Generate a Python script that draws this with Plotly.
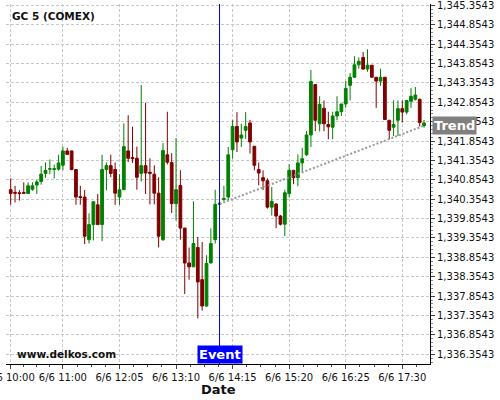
import plotly.graph_objects as go
import pandas as pd

# ---- data ----
times = pd.date_range("2019-06-06 10:00", periods=96, freq="5min")

opens = [1340.60, 1340.53, 1340.52, 1340.53, 1340.50, 1340.61, 1340.72, 1340.81, 1341.02, 1341.13,
         1341.12, 1341.13, 1341.23, 1341.60, 1341.60, 1341.12, 1340.42, 1340.41, 1339.31, 1339.70,
         1340.21, 1339.70, 1341.12, 1341.22, 1341.12, 1340.41, 1340.60, 1341.60, 1341.43, 1341.41,
         1341.02, 1341.22, 1341.05, 1341.00, 1340.51, 1339.31, 1341.50, 1341.30, 1340.24, 1340.71,
         1339.61, 1338.71, 1338.61, 1339.11, 1338.28, 1337.60, 1338.71, 1339.31, 1340.22, 1340.35,
         1340.41, 1341.63, 1342.23, 1341.93, 1342.13, 1342.32, 1341.72, 1341.12, 1340.91, 1340.83,
         1340.15, 1340.23, 1339.92, 1339.71, 1340.50, 1341.10, 1340.91, 1341.29, 1341.50, 1342.01,
         1343.31, 1342.30, 1342.70, 1342.28, 1342.21, 1342.50, 1342.61, 1342.81, 1343.29, 1343.50,
         1343.82, 1344.01, 1343.71, 1343.81, 1343.50, 1343.40, 1343.50, 1342.39, 1342.21, 1342.39,
         1342.69, 1342.60, 1342.88, 1342.93, 1342.93, 1342.25]
highs = [1340.89, 1340.70, 1340.59, 1340.79, 1340.79, 1340.79, 1340.85, 1341.21, 1341.30, 1341.38,
         1341.25, 1341.50, 1341.71, 1341.68, 1341.60, 1341.12, 1340.70, 1340.59, 1339.99, 1340.29,
         1340.49, 1341.50, 1341.30, 1341.50, 1341.30, 1341.00, 1342.31, 1342.52, 1342.22, 1341.71,
         1343.30, 1342.84, 1341.41, 1341.23, 1340.92, 1341.80, 1342.61, 1341.54, 1341.93, 1341.10,
         1339.61, 1339.11, 1340.30, 1339.38, 1339.25, 1338.91, 1339.60, 1340.60, 1340.30, 1340.70,
         1341.70, 1342.40, 1342.60, 1342.30, 1342.60, 1342.40, 1341.72, 1341.30, 1341.10, 1340.89,
         1340.67, 1340.25, 1339.95, 1340.60, 1341.26, 1341.10, 1341.51, 1341.68, 1342.11, 1343.69,
         1343.31, 1343.01, 1342.90, 1342.61, 1342.61, 1343.01, 1342.81, 1343.40, 1343.61, 1344.04,
         1344.01, 1344.15, 1344.22, 1343.81, 1343.50, 1343.72, 1343.50, 1342.39, 1342.90, 1342.90,
         1342.90, 1342.90, 1343.22, 1343.25, 1342.95, 1342.40]
lows = [1340.21, 1340.27, 1340.32, 1340.49, 1340.50, 1340.57, 1340.49, 1340.73, 1340.91, 1341.00,
        1340.89, 1341.09, 1341.10, 1341.51, 1341.10, 1340.21, 1340.21, 1339.20, 1339.21, 1339.29,
        1339.70, 1339.27, 1340.58, 1340.92, 1340.21, 1340.21, 1340.60, 1341.31, 1341.29, 1340.60,
        1340.81, 1340.49, 1340.22, 1340.22, 1339.11, 1339.28, 1341.25, 1340.00, 1339.81, 1339.31,
        1337.91, 1338.28, 1338.61, 1337.28, 1337.48, 1337.58, 1338.70, 1339.21, 1340.20, 1340.29,
        1340.33, 1341.40, 1341.57, 1341.70, 1341.91, 1341.53, 1341.10, 1340.71, 1340.59, 1340.11,
        1339.93, 1339.61, 1339.68, 1339.40, 1340.40, 1340.74, 1340.69, 1341.04, 1341.47, 1341.70,
        1342.11, 1342.10, 1342.11, 1341.90, 1341.90, 1342.39, 1342.50, 1342.71, 1342.90, 1343.48,
        1343.72, 1343.69, 1343.64, 1343.50, 1342.71, 1343.28, 1342.40, 1341.90, 1341.98, 1341.98,
        1342.33, 1342.54, 1342.71, 1342.90, 1342.23, 1342.20]
closes = [1340.50, 1340.51, 1340.50, 1340.51, 1340.70, 1340.70, 1340.80, 1341.00, 1341.10, 1341.14,
          1341.14, 1341.29, 1341.60, 1341.51, 1341.12, 1340.41, 1340.40, 1339.40, 1339.70, 1340.29,
          1339.70, 1341.12, 1341.22, 1341.02, 1340.51, 1340.60, 1341.71, 1341.41, 1341.40, 1340.92,
          1341.22, 1341.03, 1341.02, 1340.51, 1339.40, 1341.61, 1341.31, 1340.24, 1340.60, 1339.61,
          1338.71, 1338.61, 1339.21, 1338.22, 1337.60, 1338.70, 1339.21, 1340.22, 1340.25, 1340.37,
          1341.50, 1342.23, 1341.83, 1342.01, 1342.23, 1341.83, 1341.23, 1341.03, 1340.83, 1340.15,
          1340.30, 1339.92, 1339.71, 1340.52, 1341.10, 1340.91, 1341.29, 1341.40, 1342.01, 1343.39,
          1342.39, 1342.80, 1342.30, 1342.22, 1342.50, 1342.61, 1342.81, 1343.21, 1343.50, 1343.82,
          1343.91, 1343.71, 1343.81, 1343.50, 1343.40, 1343.50, 1342.41, 1342.13, 1342.28, 1342.69,
          1342.60, 1342.90, 1343.01, 1343.04, 1342.33, 1342.32]

event_time = "2019-06-06 14:00"
trend_times = ["2019-06-06 14:00", "2019-06-06 17:55"]
trend_values = [1340.23, 1342.25]

tick_times = ["2019-06-06 10:00", "2019-06-06 11:00", "2019-06-06 12:05", "2019-06-06 13:10",
              "2019-06-06 14:15", "2019-06-06 15:20", "2019-06-06 16:25", "2019-06-06 17:30"]
tick_labels = ["6/6 10:00", "6/6 11:00", "6/6 12:05", "6/6 13:10",
               "6/6 14:15", "6/6 15:20", "6/6 16:25", "6/6 17:30"]

# minor ticks: quarters of each major interval
tt = pd.to_datetime(tick_times)
minor_vals = []
for a, b in zip(tt[:-1], tt[1:]):
    for k in (1, 2, 3):
        minor_vals.append(a + (b - a) * k / 4)
step = tt[-1] - tt[-2]
minor_vals.append(tt[-1] + step / 4)
minor_vals = [t.strftime("%Y-%m-%d %H:%M:%S") for t in minor_vals]

FONT = "DejaVu Sans"

fig = go.Figure()
fig.add_trace(go.Candlestick(
    x=times, open=opens, high=highs, low=lows, close=closes,
    increasing=dict(line=dict(color="#008000", width=1), fillcolor="#008000"),
    decreasing=dict(line=dict(color="#800000", width=1), fillcolor="#800000"),
    whiskerwidth=0, showlegend=False, hoverinfo="skip",
))
fig.add_trace(go.Scatter(
    x=trend_times, y=trend_values, mode="lines",
    line=dict(color="#9a9a9a", width=2, dash="2px,2px"),
    showlegend=False, hoverinfo="skip",
))

fig.add_shape(type="line", xref="x", yref="paper", x0=event_time, x1=event_time,
              y0=0, y1=1, line=dict(color="#0000cc", width=1))

fig.add_annotation(x=event_time, xref="x", y=0, yref="paper", yanchor="bottom",
                   xanchor="center", text="<b>Event</b>", showarrow=False,
                   bgcolor="#0000ff", borderpad=1,
                   font=dict(family=FONT, size=13, color="white"))
fig.add_annotation(x=1, xref="paper", y=trend_values[-1], yref="y", xanchor="left",
                   yanchor="middle", xshift=2, text="<b>Trend</b>", showarrow=False,
                   bgcolor="#808080", borderpad=1,
                   font=dict(family=FONT, size=13, color="white"))
fig.add_annotation(x=0, xref="paper", y=0.968, yref="paper", xanchor="left",
                   yanchor="middle", xshift=4, text="<b>GC 5 (COMEX)</b>", showarrow=False,
                   font=dict(family=FONT, size=10.5, color="#111"))
fig.add_annotation(x=0.0212, xref="paper", y=0.029, yref="paper", xanchor="left",
                   yanchor="middle", text="<b>www.delkos.com</b>", showarrow=False,
                   font=dict(family=FONT, size=10.5, color="#111"))
fig.add_annotation(x=0.5, xref="paper", y=-0.0708, yref="paper", xanchor="center",
                   yanchor="middle", text="<b>Date</b>", showarrow=False,
                   font=dict(family=FONT, size=13, color="#111"))

fig.update_layout(
    width=500, height=400,
    margin=dict(l=6, r=70, t=4, b=36, autoexpand=False),
    paper_bgcolor="white", plot_bgcolor="white",
    boxgap=0.1,
    font=dict(family=FONT, size=10, color="#111"),
    xaxis=dict(
        type="date",
        range=["2019-06-06 09:54:36", "2019-06-06 18:01:50"],
        rangeslider=dict(visible=False),
        tickmode="array", tickvals=tick_times, ticktext=tick_labels,
        ticklabeloverflow="allow",
        ticks="outside", ticklen=4, tickcolor="#444",
        showline=True, linecolor="black", linewidth=1,
        showgrid=True, gridcolor="#c8c8c8", griddash="3px,2px", gridwidth=1,
        zeroline=False,
        minor=dict(tickmode="array", tickvals=minor_vals, ticks="outside",
                   ticklen=2, tickcolor="#444", showgrid=False),
        tickfont=dict(family=FONT, size=10, color="#111"),
    ),
    yaxis=dict(
        side="right",
        range=[1336.105, 1345.388],
        tickmode="linear", tick0=1336.3543, dtick=0.5, tickformat=",.4f",
        ticklabeloverflow="allow",
        ticks="outside", ticklen=4, tickcolor="#444",
        showline=True, linecolor="black", linewidth=1,
        showgrid=True, gridcolor="#c8c8c8", griddash="3px,2px", gridwidth=1,
        zeroline=False,
        minor=dict(tick0=1336.3543, dtick=0.1, ticks="outside", ticklen=2,
                   tickcolor="#888", showgrid=False),
        tickfont=dict(family=FONT, size=10, color="#111"),
    ),
)

fig.write_html("out.html", config={"displayModeBar": False},
               post_script="document.body.style.margin='0';")
